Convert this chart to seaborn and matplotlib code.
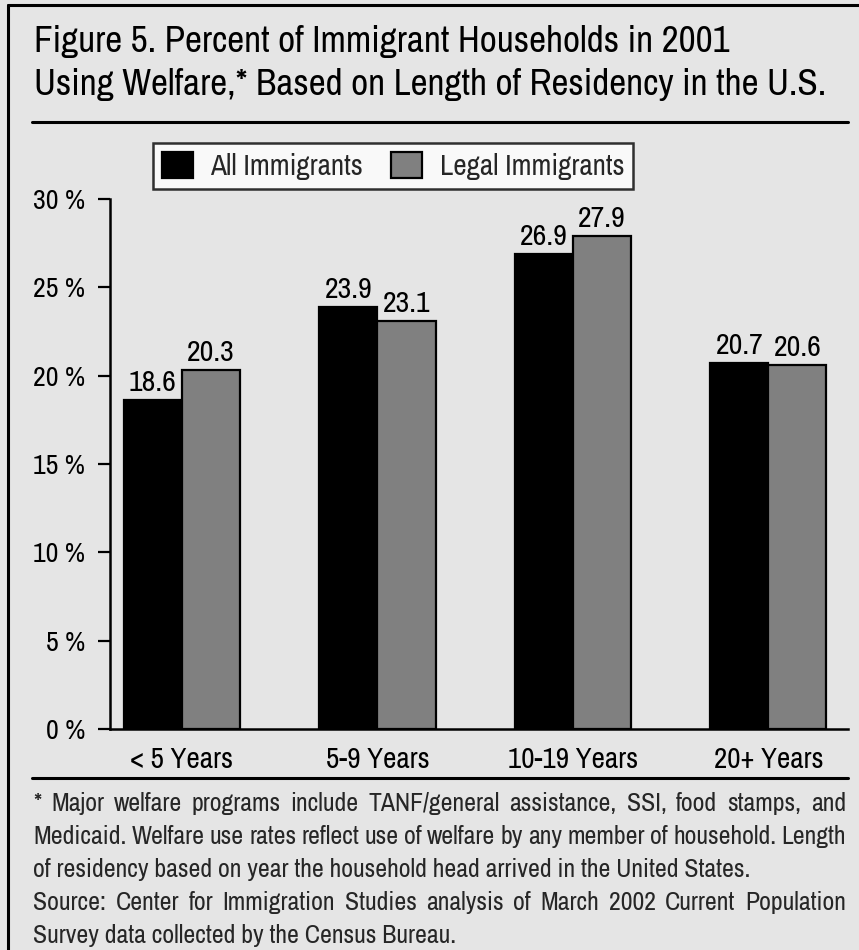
import matplotlib
matplotlib.use("Agg")
import matplotlib.pyplot as plt
from matplotlib.lines import Line2D
import seaborn as sns
import pandas as pd

# Data
categories = ["< 5 Years", "5-9 Years", "10-19 Years", "20+ Years"]
series_names = ["All Immigrants", "Legal Immigrants"]
all_immigrants = [18.6, 23.9, 26.9, 20.7]
legal_immigrants = [20.3, 23.1, 27.9, 20.6]
y_ticks = [0, 5, 10, 15, 20, 25, 30]
y_tick_labels = ["0 %", "5 %", "10 %", "15 %", "20 %", "25 %", "30 %"]

title_lines = [
    "Figure 5. Percent of Immigrant Households in 2001",
    "Using Welfare,* Based on Length of Residency in the U.S.",
]
note_lines = [
    ("* Major welfare programs include TANF/general assistance, SSI, food stamps, and", True),
    ("Medicaid. Welfare use rates reflect use of welfare by any member of household. Length", True),
    ("of residency based on year the household head arrived in the United States.", False),
    ("Source: Center for Immigration Studies analysis of March 2002 Current Population", True),
    ("Survey data collected by the Census Bureau.", False),
]

df = pd.DataFrame({
    "period": categories * 2,
    "group": [series_names[0]] * 4 + [series_names[1]] * 4,
    "pct": all_immigrants + legal_immigrants,
})

BG = "#e5e5e5"
sns.set_theme(style="white")
plt.rcParams["font.family"] = ["Archivo Narrow", "Liberation Sans", "DejaVu Sans"]

W, H = 859, 950
fig = plt.figure(figsize=(W / 100, H / 100), dpi=100, facecolor=BG)


def fx(px):
    return px / W


def fy(py):
    return 1 - py / H


# Frame lines (left and top)
fig.add_artist(Line2D([fx(8), fx(8)], [fy(5), fy(H + 5)], color="black", lw=2.2))
fig.add_artist(Line2D([fx(8), fx(W + 5)], [fy(5), fy(5)], color="black", lw=2.2))

# Title
for i, line in enumerate(title_lines):
    fig.text(fx(34), fy(52 + 43 * i), line, fontsize=26.8, ha="left",
             va="baseline", color="black")
fig.add_artist(Line2D([fx(32), fx(848)], [fy(122), fy(122)], color="black", lw=2.2))

# Chart area
ax = fig.add_axes([fx(110), fy(729), fx(848) - fx(110), fy(199) - fy(729)])
ax.set_facecolor(BG)
sns.barplot(data=df, x="period", y="pct", hue="group", hue_order=series_names,
            palette=["#000000", "#808080"], edgecolor="black", linewidth=1.6,
            width=0.594, gap=0, ax=ax, legend=True)

for cont in ax.containers:
    ax.bar_label(cont, fmt="%.1f", padding=3, fontsize=21.5, color="black")

ax.set_ylim(0, 30)
ax.set_xlim(-0.368, 3.407)
ax.set_yticks(y_ticks)
ax.set_yticklabels(y_tick_labels, fontsize=20)
ax.set_xlabel("")
ax.set_ylabel("")
ax.tick_params(axis="y", direction="out", length=9, width=1.6, pad=9, left=True,
               colors="black")
ax.tick_params(axis="x", length=0, pad=12, labelsize=21, colors="black")
for s in ["top", "right"]:
    ax.spines[s].set_visible(False)
for s in ["left", "bottom"]:
    ax.spines[s].set_color("black")
    ax.spines[s].set_linewidth(1.8)

handles, labels = ax.get_legend_handles_labels()
leg = ax.legend(handles, labels, ncol=2, loc="lower left",
                bbox_to_anchor=(fx(153), fy(189)), bbox_transform=fig.transFigure,
                frameon=True, fancybox=False, fontsize=21, handlelength=1.07,
                handleheight=1.0, handletextpad=0.6, columnspacing=0.95,
                borderpad=0.3, borderaxespad=0)
leg.get_frame().set_edgecolor("black")
leg.get_frame().set_linewidth(1.8)
leg.get_frame().set_facecolor("white")

# Footnote rule and justified text
fig.add_artist(Line2D([fx(32), fx(848)], [fy(778), fy(778)], color="black", lw=2.2))

renderer = fig.canvas.get_renderer()
x_left, x_right = 33, 846
for i, (line, justify) in enumerate(note_lines):
    yb = fy(811 + 33 * i)
    if not justify:
        fig.text(fx(x_left), yb, line, fontsize=18.6, ha="left", va="baseline")
        continue
    words = line.split(" ")
    arts = [fig.text(0, yb, w, fontsize=18.6, ha="left", va="baseline") for w in words]
    widths = [a.get_window_extent(renderer).width for a in arts]
    gap = (x_right - x_left - sum(widths)) / (len(words) - 1)
    x = x_left
    for a, w in zip(arts, widths):
        a.set_x(fx(x))
        x += w + gap

fig.savefig("out.png", dpi=100, facecolor=BG)
